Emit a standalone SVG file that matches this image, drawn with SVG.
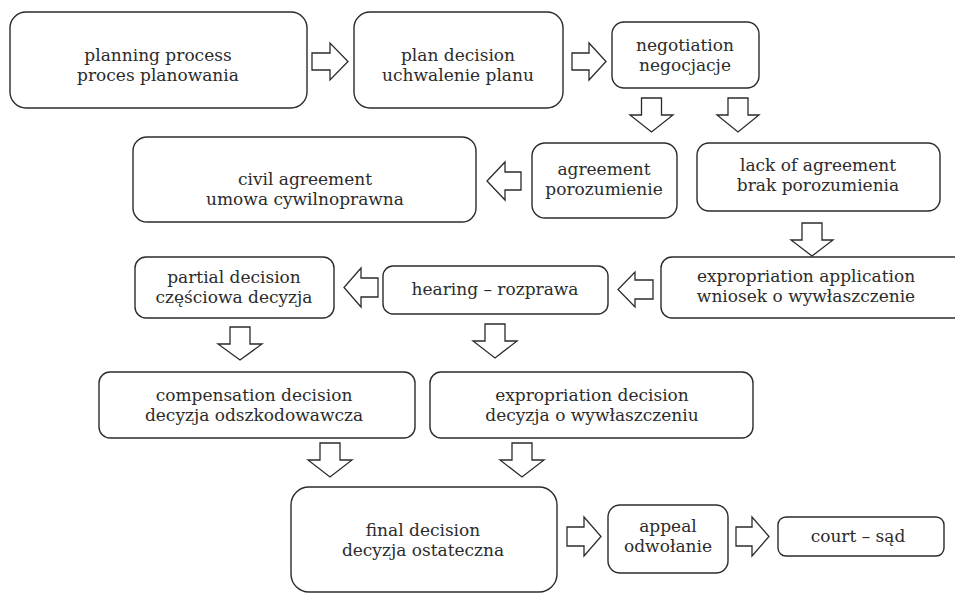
<svg xmlns="http://www.w3.org/2000/svg" width="955" height="593" viewBox="0 0 955 593">
  <style>
    .box { fill: #ffffff; stroke: #2b2b2b; stroke-width: 1.4; }
    .arrow { fill: #ffffff; stroke: #2b2b2b; stroke-width: 1.3; stroke-linejoin: miter; }
    text { font-family: "DejaVu Serif", "Liberation Serif", serif; font-size: 17px; fill: #2b2b2b; text-anchor: middle; }
  </style>
  <rect width="955" height="593" fill="#ffffff"/>

  <!-- block arrows between steps -->
  <g id="connectors">
    <!-- rightward -->
    <polygon class="arrow" points="312,53 330,53 330,43 348,61.5 330,80 330,70 312,70"/>
    <polygon class="arrow" points="572,53 589,53 589,43 606,61.5 589,80 589,70 572,70"/>
    <polygon class="arrow" points="567,527 584,527 584,517 601,536.5 584,556 584,546 567,546"/>
    <polygon class="arrow" points="736,527 752,527 752,517 769,536.5 752,556 752,546 736,546"/>
    <!-- leftward -->
    <polygon class="arrow" points="521,172 505,172 505,162 487,181 505,200 505,190 521,190"/>
    <polygon class="arrow" points="378,278 361,278 361,268 344,287.5 361,307 361,297 378,297"/>
    <polygon class="arrow" points="653,280 635,280 635,272 618,289.5 635,307 635,299 653,299"/>
    <!-- downward -->
    <polygon class="arrow" points="641.5,98 661.5,98 661.5,115 673,115 651.5,132 630,115 641.5,115"/>
    <polygon class="arrow" points="728,98 748,98 748,115 759,115 738,132 717,115 728,115"/>
    <polygon class="arrow" points="802,223 822,223 822,240 833,240 812,256 791,240 802,240"/>
    <polygon class="arrow" points="230,327 250,327 250,344 262,344 240,360 218,344 230,344"/>
    <polygon class="arrow" points="485,324 505,324 505,341 517,341 495,358 473,341 485,341"/>
    <polygon class="arrow" points="320,443 340,443 340,460 352,460 330,477 308,460 320,460"/>
    <polygon class="arrow" points="512,443 532,443 532,460 544,460 522,477 500,460 512,460"/>
  </g>

  <g id="planning-process">
    <rect class="box" x="10" y="12" width="297" height="96" rx="16"/>
    <text x="158" y="61">planning process</text>
    <text x="158" y="81">proces planowania</text>
  </g>

  <g id="plan-decision">
    <rect class="box" x="354" y="12" width="209" height="96" rx="16"/>
    <text x="458" y="61">plan decision</text>
    <text x="458" y="81">uchwalenie planu</text>
  </g>

  <g id="negotiation">
    <rect class="box" x="612" y="22" width="147" height="66" rx="12"/>
    <text x="685" y="51">negotiation</text>
    <text x="685" y="71">negocjacje</text>
  </g>

  <g id="civil-agreement">
    <rect class="box" x="133" y="137" width="343" height="85" rx="14"/>
    <text x="305" y="185">civil agreement</text>
    <text x="305" y="205">umowa cywilnoprawna</text>
  </g>

  <g id="agreement">
    <rect class="box" x="532" y="143" width="145" height="75" rx="13"/>
    <text x="604" y="175">agreement</text>
    <text x="604" y="195">porozumienie</text>
  </g>

  <g id="lack-of-agreement">
    <rect class="box" x="697" y="143" width="243" height="68" rx="12"/>
    <text x="818" y="171">lack of agreement</text>
    <text x="818" y="191">brak porozumienia</text>
  </g>

  <g id="partial-decision">
    <rect class="box" x="135" y="257" width="199" height="61" rx="11"/>
    <text x="234" y="283">partial decision</text>
    <text x="234" y="303">częściowa decyzja</text>
  </g>

  <g id="hearing">
    <rect class="box" x="383" y="266" width="225" height="48" rx="10"/>
    <text x="495" y="295">hearing – rozprawa</text>
  </g>

  <g id="expropriation-application">
    <rect class="box" x="661" y="257" width="310" height="61" rx="11"/>
    <text x="806" y="282">expropriation application</text>
    <text x="806" y="302">wniosek o wywłaszczenie</text>
  </g>

  <g id="compensation-decision">
    <rect class="box" x="99" y="372" width="316" height="66" rx="11"/>
    <text x="254" y="401">compensation decision</text>
    <text x="254" y="421">decyzja odszkodowawcza</text>
  </g>

  <g id="expropriation-decision">
    <rect class="box" x="430" y="372" width="323" height="66" rx="11"/>
    <text x="592" y="401">expropriation decision</text>
    <text x="592" y="421">decyzja o wywłaszczeniu</text>
  </g>

  <g id="final-decision">
    <rect class="box" x="291" y="487" width="266" height="105" rx="18"/>
    <text x="423" y="536">final decision</text>
    <text x="423" y="556">decyzja ostateczna</text>
  </g>

  <g id="appeal">
    <rect class="box" x="608" y="505" width="120" height="68" rx="12"/>
    <text x="668" y="532">appeal</text>
    <text x="668" y="552">odwołanie</text>
  </g>

  <g id="court">
    <rect class="box" x="778" y="517" width="166" height="39" rx="8"/>
    <text x="858" y="542">court – sąd</text>
  </g>
</svg>
